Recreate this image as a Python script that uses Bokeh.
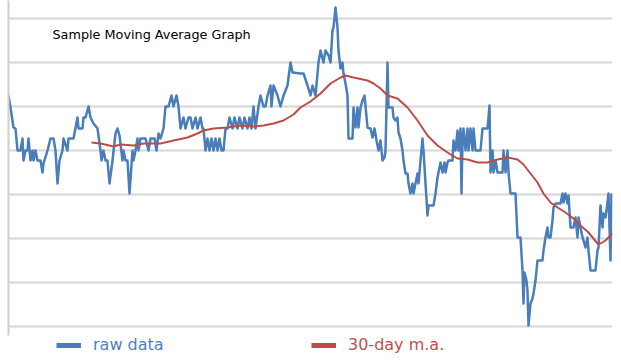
from bokeh.plotting import figure
from bokeh.models import Range1d, FixedTicker, Label, Legend, LegendItem
from bokeh.embed import file_html
from bokeh.resources import INLINE

# ---- data (x = trading-day position, y = value; gridlines every 44 units) ----
raw_x = [0, 2, 5, 7, 9, 12, 14, 15, 17, 19, 20, 22, 24, 25, 27, 29, 32, 34, 35, 39,
         42, 45, 47, 49, 51, 54, 55, 59, 60, 65, 69, 70, 74, 75, 77, 80, 82, 85, 89, 92,
         93, 95, 97, 99, 101, 104, 107, 109, 111, 114, 115, 117, 119, 121, 124, 125, 127, 129, 130, 132,
         137, 140, 142, 146, 148, 150, 152, 155, 157, 160, 163, 165, 168, 170, 172, 175, 177, 180, 182, 184,
         187, 189, 192, 194, 195, 197, 199, 201, 203, 205, 207, 209, 211, 213, 215, 217, 219, 221, 224, 226,
         229, 231, 234, 236, 239, 241, 243, 245, 247, 250, 252, 255, 257, 259, 262, 263, 265, 269, 272, 275,
         279, 282, 284, 292, 295, 299, 302, 304, 307, 310, 312, 315, 317, 320, 322, 324, 325, 327, 329, 330,
         332, 334, 335, 337, 339, 340, 344, 345, 347, 349, 350, 352, 354, 356, 359, 362, 364, 366, 368, 370,
         372, 374, 376, 377, 379, 380, 384, 385, 387, 389, 390, 392, 394, 395, 397, 399, 400, 402, 404, 405,
         407, 409, 410, 412, 414, 415, 417, 419, 420, 425, 427, 429, 432, 434, 436, 437, 439, 440, 444, 445,
         447, 449, 450, 452, 453, 454, 455, 457, 459, 460, 462, 464, 465, 467, 472, 474, 479, 481, 482, 484,
         485, 487, 489, 494, 495, 497, 499, 500, 502, 507, 509, 512, 514, 515, 516, 518, 519, 520, 522, 524,
         525, 527, 529, 534, 535, 537, 539, 540, 542, 544, 545, 547, 552, 554, 555, 557, 559, 560, 562, 565,
         567, 569, 570, 572, 574, 575, 577, 579, 580, 582, 587, 589, 590, 592, 594, 595, 597, 599, 600, 602,
         603]
raw_y = [231, 219, 199, 198, 176, 176, 188, 166, 176, 176, 188, 166, 176, 166, 176, 166, 166, 154, 163, 176,
         188, 188, 176, 143, 166, 176, 188, 176, 188, 188, 209, 198, 198, 209, 209, 220, 209, 203, 198, 176,
         166, 176, 166, 166, 143, 166, 193, 198, 191, 166, 176, 166, 166, 133, 176, 166, 176, 188, 176, 188,
         188, 176, 188, 188, 176, 193, 188, 198, 220, 220, 231, 220, 231, 220, 198, 209, 198, 209, 209, 198,
         209, 198, 209, 198, 198, 176, 188, 176, 188, 176, 188, 176, 188, 176, 176, 198, 198, 209, 198, 209,
         198, 209, 198, 209, 198, 209, 198, 220, 198, 220, 231, 220, 220, 231, 241, 220, 241, 231, 220, 231,
         241, 264, 254, 253, 253, 241, 231, 241, 231, 264, 276, 264, 276, 271, 264, 296, 299, 319, 299, 276,
         258, 264, 253, 243, 231, 188, 188, 219, 199, 219, 199, 219, 226, 231, 199, 198, 189, 198, 186, 176,
         186, 166, 169, 176, 264, 219, 219, 209, 206, 209, 194, 188, 176, 166, 153, 153, 143, 133, 143, 133,
         143, 153, 143, 166, 188, 176, 143, 111, 121, 121, 133, 149, 164, 154, 164, 154, 164, 166, 166, 186,
         176, 196, 176, 198, 133, 186, 198, 176, 198, 176, 198, 176, 198, 176, 176, 198, 198, 221, 154, 176,
         154, 166, 154, 154, 176, 154, 176, 154, 133, 133, 89, 89, 56, 23, 54, 46, 36, 1, 23, 28,
         33, 46, 66, 66, 76, 89, 99, 89, 89, 106, 119, 123, 123, 133, 124, 133, 123, 131, 99, 99,
         109, 89, 109, 99, 89, 86, 79, 89, 76, 56, 56, 76, 79, 121, 99, 113, 109, 124, 133, 66,
         133]

ma_x = [83, 92, 105, 112, 125, 135, 152, 165, 179, 189, 195, 205, 219, 232, 245, 255, 265, 275, 285, 292,
        302, 312, 322, 332, 337, 345, 359, 365, 372, 379, 389, 399, 409, 419, 429, 439, 449, 459, 469, 479,
        489, 499, 509, 515, 522, 529, 535, 542, 549, 557, 565, 572, 580, 589, 592, 597, 604]
ma_y = [184, 183, 180, 182, 181, 183, 183, 186, 189, 193, 196, 198, 199, 201, 200, 201, 203, 206, 212, 219,
        225, 233, 243, 249, 251, 249, 246, 243, 238, 231, 228, 219, 206, 191, 181, 174, 168, 167, 164, 164,
        167, 169, 167, 162, 153, 144, 133, 124, 119, 114, 108, 101, 94, 83, 83, 86, 93]

grid_ticks = [0, 44, 88, 132, 176, 220, 264, 308]

title_text = "Sample Moving Average Graph"
series_names = ["raw data", "30-day m.a."]

RAW_COLOR = "#4a7ebb"
MA_COLOR = "#be4b48"
NAN = float("nan")

p = figure(width=614, height=358, output_backend="svg", toolbar_location=None,
           x_range=Range1d(0, 604), y_range=Range1d(-32, 326),
           min_border_left=8, min_border_right=2, min_border_top=0, min_border_bottom=0)
p.xaxis.visible = False
p.xgrid.visible = False

yax = p.yaxis[0]
yax.ticker = FixedTicker(ticks=[])
yax.bounds = (-9, 326)
yax.axis_line_color = "#d0d0d0"
yax.axis_line_width = 2
yax.major_tick_line_color = None
yax.minor_tick_line_color = None
yax.major_tick_out = 0
yax.major_tick_in = 0
yax.major_label_standoff = 0

p.ygrid[0].ticker = FixedTicker(ticks=grid_ticks)
p.ygrid.grid_line_color = "#d6d6d6"
p.ygrid.grid_line_width = 2
p.outline_line_color = None
p.background_fill_color = "white"
p.border_fill_color = "white"

p.line(raw_x, raw_y, line_color=RAW_COLOR, line_width=2.5, line_join="round")
p.line(ma_x, ma_y, line_color=MA_COLOR, line_width=2, line_join="round")

# legend swatches (renderers that draw nothing in the plot)
lr1 = p.line([NAN, NAN], [NAN, NAN], line_color=RAW_COLOR, line_width=5)
lr2 = p.line([NAN, NAN], [NAN, NAN], line_color=MA_COLOR, line_width=5)

for rend, name, col, loc in [(lr1, series_names[0], "#4f81bd", (48, 4)),
                             (lr2, series_names[1], "#c0504d", (303, 4))]:
    lg = Legend(items=[LegendItem(label=name, renderers=[rend])], location=loc,
                orientation="horizontal", padding=0, margin=0, spacing=0,
                glyph_width=25, glyph_height=16, label_height=16, label_standoff=12,
                label_text_font="DejaVu Sans", label_text_font_size="16px",
                label_text_color=col, border_line_color=None, background_fill_alpha=0)
    p.add_layout(lg, "center")

p.add_layout(Label(x=44, y=324, x_units="screen", y_units="screen", text=title_text,
                   text_font="DejaVu Sans", text_font_size="12.8px", text_color="black",
                   text_baseline="middle"))

open("out.html", "w").write(file_html(p, INLINE))
